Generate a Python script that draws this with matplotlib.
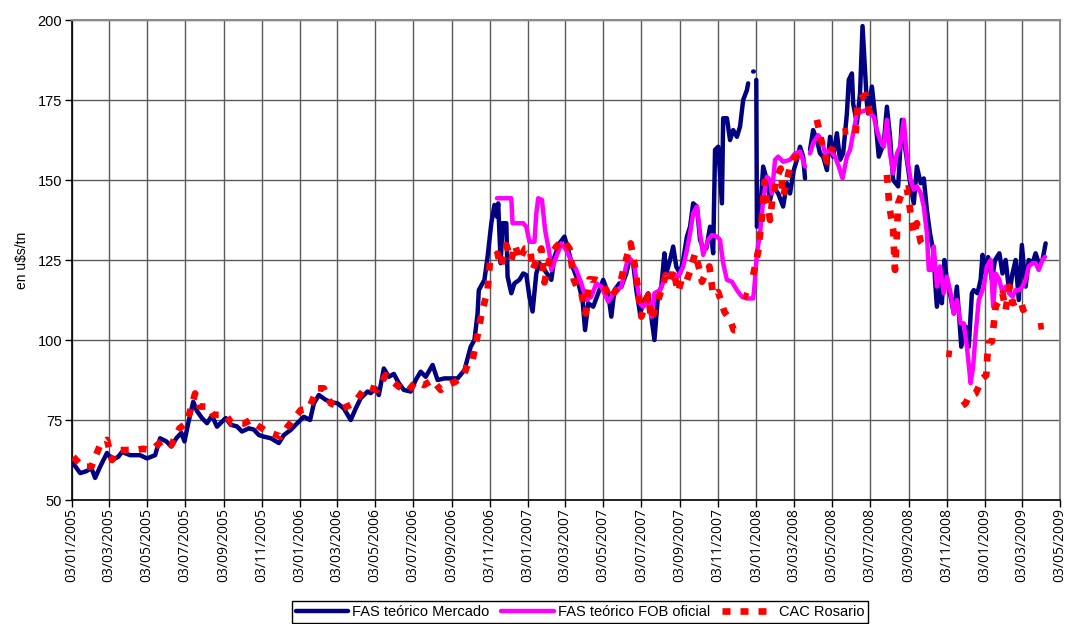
import numpy as np
import pandas as pd
import matplotlib
matplotlib.use("Agg")
import matplotlib.pyplot as plt
import matplotlib.dates as mdates
from matplotlib import font_manager

# --- data (u$s/tn); None marks a gap in the series ---
mercado_dates = [
    "2005-01-03", "2005-01-16", "2005-01-26", "2005-02-03", "2005-02-09", "2005-02-17", "2005-02-28",
    "2005-03-08", "2005-03-18", "2005-03-24", "2005-04-06", "2005-04-22", "2005-05-03", "2005-05-16",
    "2005-05-24", "2005-06-03", "2005-06-11", "2005-06-19", "2005-06-27", "2005-07-02", "2005-07-08",
    "2005-07-16", "2005-07-22", "2005-07-30", "2005-08-07", "2005-08-15", "2005-08-23", "2005-08-31",
    "2005-09-06", "2005-09-14", "2005-09-24", "2005-10-02", "2005-10-13", "2005-10-21", "2005-10-29",
    "2005-11-06", "2005-11-17", "2005-11-30", "2005-12-08", "2005-12-19", "2006-01-01", "2006-01-09",
    "2006-01-19", "2006-01-25", "2006-02-02", "2006-02-13", "2006-02-21", "2006-03-04", "2006-03-14",
    "2006-03-25", "2006-04-02", "2006-04-10", "2006-04-21", "2006-04-26", "2006-05-04", "2006-05-09",
    "2006-05-17", "2006-05-25", "2006-06-02", "2006-06-10", "2006-06-18", "2006-06-29", "2006-07-07",
    "2006-07-15", "2006-07-23", "2006-08-03", "2006-08-11", "2006-08-22", "2006-09-01", "2006-09-12",
    "2006-09-23", "2006-10-03", "2006-10-09", "2006-10-14", "2006-10-16", "2006-10-25", "2006-10-30",
    "2006-11-05", "2006-11-10", "2006-11-14", "2006-11-16", "2006-11-20", "2006-11-23", "2006-11-29",
    "2006-12-01", "2006-12-07", "2006-12-12", "2006-12-20", "2006-12-26", "2006-12-31", "2007-01-05",
    "2007-01-10", "2007-01-16", "2007-01-21", "2007-01-29", "2007-02-09", "2007-02-14", "2007-02-22",
    "2007-03-02", "2007-03-07", "2007-03-15", "2007-03-23", "2007-03-31", "2007-04-04", "2007-04-09",
    "2007-04-17", "2007-04-25", "2007-05-03", "2007-05-11", "2007-05-16", "2007-05-21", "2007-05-29",
    "2007-06-01", "2007-06-09", "2007-06-14", "2007-06-20", "2007-06-25", "2007-07-01", "2007-07-08",
    "2007-07-14", "2007-07-19", "2007-07-24", "2007-07-30", "2007-08-04", "2007-08-09", "2007-08-12",
    "2007-08-18", "2007-08-23", "2007-08-28", "2007-09-03", "2007-09-08", "2007-09-14", "2007-09-19",
    "2007-09-24", "2007-09-30", "2007-10-05", "2007-10-10", "2007-10-15", "2007-10-21", "2007-10-26",
    "2007-10-29", "2007-11-03", "2007-11-09", "2007-11-11", "2007-11-17", "2007-11-22", "2007-11-27",
    "2007-12-03", "2007-12-08", "2007-12-13", "2007-12-19", "2007-12-21", "2007-12-25", "2007-12-29",
    "2007-12-30", "2008-01-01", "2008-01-03", "2008-01-04", "2008-01-09", "2008-01-14", "2008-01-20",
    "2008-01-25", "2008-01-30", "2008-02-07", "2008-02-15", "2008-02-21", "2008-02-26", "2008-03-03",
    "2008-03-08", "2008-03-13", "2008-03-18", "2008-03-21", "2008-03-25", "2008-03-29", "2008-04-03",
    "2008-04-09", "2008-04-14", "2008-04-19", "2008-04-25", "2008-04-30", "2008-05-05", "2008-05-11",
    "2008-05-16", "2008-05-21", "2008-05-27", "2008-05-30", "2008-06-04", "2008-06-06", "2008-06-12",
    "2008-06-17", "2008-06-21", "2008-06-25", "2008-06-28", "2008-06-30", "2008-07-06", "2008-07-11",
    "2008-07-17", "2008-07-25", "2008-07-30", "2008-08-04", "2008-08-09", "2008-08-17", "2008-08-23",
    "2008-08-28", "2008-09-03", "2008-09-06", "2008-09-11", "2008-09-16", "2008-09-22", "2008-09-27",
    "2008-10-02", "2008-10-07", "2008-10-13", "2008-10-15", "2008-10-18", "2008-10-23", "2008-10-26",
    "2008-10-30", "2008-11-03", "2008-11-09", "2008-11-14", "2008-11-19", "2008-11-23", "2008-11-26",
    "2008-12-03", "2008-12-08", "2008-12-13", "2008-12-16", "2008-12-22", "2008-12-27", "2008-12-30",
    "2009-01-03", "2009-01-08", "2009-01-14", "2009-01-19", "2009-01-26", "2009-01-31", "2009-02-05",
    "2009-02-11", "2009-02-16", "2009-02-21", "2009-02-26", "2009-03-03", "2009-03-09", "2009-03-14",
    "2009-03-20", "2009-03-25", "2009-03-30", "2009-04-05", "2009-04-10",
]
mercado = [
    62, 58.4, 59, 60, 56.9, 60.4, 64.7,
    62.5, 63.5, 65, 64, 64, 63, 64,
    69.3, 68.3, 66.7, 69.3, 71, 68.3, 74,
    80.7, 77.8, 75.6, 74, 76.4, 72.9, 74.5,
    75.6, 73.5, 73, 71.4, 72.4, 72, 70.3,
    69.8, 69.3, 67.8, 70.3, 71.9, 74.5, 76,
    75, 80.2, 82.8, 81.3, 80.6, 80.2, 78.6,
    75, 78.6, 81.8, 83.9, 83.4, 84.9, 82.8,
    91.1, 88.5, 89.4, 86.5, 84.4, 83.9, 87.5,
    90.1, 88.5, 92.2, 87.5, 88, 88, 88,
    90.6, 97.9, 100, 108.3, 115.6, 118.8, 126,
    136.5, 142.2, 138.5, 142.7, 124, 136.5, 136.5,
    119.8, 114.6, 117.7, 118.8, 120.8, 120.3, 113.5,
    108.9, 120.8, 124, 121.9, 118.8, 126, 130.2,
    132.3, 129, 122.9, 118.8, 112.5, 103.1, 111.5,
    110.4, 114.6, 118.8, 114.6, 107.3, 115.6, 117.7,
    116.6, 120.8, 125, 124, 115.6, 108.3, 112.5,
    114.6, 107.3, 100, 114.6, 116.6, 127.1, 120.8,
    125, 129.2, 122.9, 120.8, 125, 132.3, 135.4,
    142.7, 141.7, 131.3, 128.6, 128.6, 135.4, 127.1,
    159.4, 160.4, 142.7, 169.3, 169.3, 162.5, 165.6,
    163.5, 166.7, 175, 178.1, 180.2, None, 183.9,
    183.9, None, 181.3, 135.4, 139.6, 154.2, 150,
    143.8, 147.9, 145.8, 141.7, 149, 145.8, 153.1,
    156.3, 160.4, 157.3, 150.5, None, 159.4, 165.6,
    162.5, 158.3, 157.3, 153.1, 163.5, 157.3, 164.6,
    156.3, 158.3, 170.8, 181.3, 183.3, 173.9, 167.7,
    177.1, 198.1, 184.4, 174, 170.8, 179.2, 170,
    157.3, 161.5, 172.9, 163.5, 150, 148, 168.8,
    160.4, 152, 148, 142.7, 154.2, 149, 150.5,
    140.6, 133.3, 127, 118.8, 110.4, 118.8, 111.5,
    125, 118.8, 113.5, 108.3, 116.7, 106.3, 97.9,
    104.2, 97.9, 114.6, 115.6, 114.6, 118.8, 126.6,
    120.8, 125.9, 118.8, 125, 127.1, 120.8, 125,
    114.6, 120.8, 125, 112.5, 129.7, 116.7, 125,
    124, 127.1, 124, 125, 130.2,
]

fob_dates = [
    "2006-11-14", "2006-12-07", "2006-12-09", "2006-12-26", "2006-12-31", "2007-01-05", "2007-01-13",
    "2007-01-16", "2007-01-19", "2007-01-25", "2007-01-30", "2007-02-06", "2007-02-09", "2007-02-17",
    "2007-02-25", "2007-03-05", "2007-03-15", "2007-03-21", "2007-03-29", "2007-04-06", "2007-04-14",
    "2007-04-22", "2007-04-30", "2007-05-11", "2007-05-21", "2007-06-01", "2007-06-12", "2007-06-17",
    "2007-06-22", "2007-07-01", "2007-07-06", "2007-07-14", "2007-07-19", "2007-07-24", "2007-08-02",
    "2007-08-09", "2007-08-15", "2007-08-23", "2007-08-31", "2007-09-08", "2007-09-14", "2007-09-19",
    "2007-09-24", "2007-09-30", "2007-10-05", "2007-10-10", "2007-10-18", "2007-10-24", "2007-11-01",
    "2007-11-06", "2007-11-11", "2007-11-17", "2007-11-25", "2007-12-03", "2007-12-11", "2007-12-19",
    "2007-12-29", "2007-12-31", "2008-01-04", "2008-01-09", "2008-01-12", "2008-01-14", "2008-01-20",
    "2008-01-25", "2008-01-28", "2008-02-02", "2008-02-07", "2008-02-15", "2008-02-26", "2008-03-05",
    "2008-03-13", "2008-03-21", "2008-03-25", "2008-03-29", "2008-04-03", "2008-04-11", "2008-04-17",
    "2008-04-22", "2008-04-30", "2008-05-08", "2008-05-14", "2008-05-20", "2008-05-27", "2008-06-01",
    "2008-06-06", "2008-06-12", "2008-06-20", "2008-06-28", "2008-07-03", "2008-07-09", "2008-07-14",
    "2008-07-19", "2008-07-25", "2008-07-30", "2008-08-04", "2008-08-09", "2008-08-15", "2008-08-20",
    "2008-08-26", "2008-08-31", "2008-09-06", "2008-09-11", "2008-09-16", "2008-09-22", "2008-09-27",
    "2008-10-02", "2008-10-05", "2008-10-10", "2008-10-13", "2008-10-18", "2008-10-23", "2008-10-29",
    "2008-11-03", "2008-11-09", "2008-11-14", "2008-11-19", "2008-11-25", "2008-11-30", "2008-12-05",
    "2008-12-11", "2008-12-15", "2008-12-19", "2008-12-24", "2009-01-01", "2009-01-06", "2009-01-12",
    "2009-01-16", "2009-01-20", "2009-01-26", "2009-01-31", "2009-02-05", "2009-02-11", "2009-02-16",
    "2009-02-21", "2009-02-27", "2009-03-04", "2009-03-09", "2009-03-14", "2009-03-20", "2009-03-25",
    "2009-03-30", "2009-04-05", "2009-04-09",
]
fob_oficial = [
    144.3, 144.3, 136.5, 136.5, 135.4, 130.7, 130.7,
    139.6, 144.3, 143.8, 134.4, 127.1, 121.9, 126,
    130.2, 128, 124, 121.9, 117.7, 112.5, 113.5,
    117.7, 116.7, 112, 115, 116.6, 126, 125,
    122.9, 111.5, 110.4, 112.5, 107.3, 114.6, 115.6,
    118.8, 119.8, 120.8, 119.8, 122.9, 128.1, 133.3,
    139.6, 141.7, 133.3, 126.6, 131.3, 132.8, 132.3,
    131.3, 124, 118.8, 118.2, 115.6, 113.5, 113,
    113, 116.7, 127.1, 133.3, 139.6, 143.8, 151,
    150, 145.8, 156.3, 157.3, 155.7, 156.3, 158.3,
    158.9, 154.2, None, 158.3, 161.5, 164, 162.5,
    158.3, 159.4, 157.3, 154.2, 150.5, 157.3, 159.4,
    164.6, 170.8, 171.4, 171.9, 170.8, 169.8, 165.6,
    162.5, 160.4, 168.8, 158.3, 152.1, 158.3, 160.4,
    168.8, 157.3, 150, 147, 148, 146, 141.7,
    133.3, 121.9, 121.9, 129.2, 116.7, 123, 114.6,
    119.8, 114.6, 108.3, 112.5, 105.2, 105.2, 97.9,
    86.5, 91.7, 102, 112.5, 116.7, 123, 125,
    110.4, 120.8, 118.8, 114.6, 116.7, 114.6, 113.5,
    115.6, 115.6, 116.7, 118.8, 123, 124, 124,
    121.9, 125, 126,
]

cac_dates = [
    "2005-01-05", "2005-01-20", "2005-02-03", "2005-02-17", "2005-02-28", "2005-03-08", "2005-03-16",
    "2005-04-01", "2005-04-14", "2005-04-27", "2005-05-10", "2005-05-29", "2005-06-11", "2005-06-24",
    "2005-07-05", "2005-07-10", "2005-07-19", "2005-07-26", "2005-08-09", "2005-08-17", "2005-09-06",
    "2005-09-16", "2005-10-05", "2005-10-16", "2005-10-21", "2005-11-11", "2005-12-03", "2005-12-14",
    "2006-01-04", "2006-01-17", "2006-01-31", "2006-02-10", "2006-02-21", "2006-03-12", "2006-03-30",
    "2006-04-13", "2006-04-21", "2006-05-06", "2006-05-20", "2006-05-31", "2006-06-10", "2006-06-24",
    "2006-07-07", "2006-07-20", "2006-08-03", "2006-08-16", "2006-08-27", "2006-09-09", "2006-09-23",
    "2006-10-01", "2006-10-06", "2006-10-13", "2006-10-20", "2006-10-30", "2006-11-03", "2006-11-15",
    "2006-11-20", "2006-11-29", "2006-12-07", "2006-12-13", "2006-12-20", "2006-12-29", "2007-01-06",
    "2007-01-10", "2007-01-24", "2007-01-29", "2007-02-08", "2007-02-17", "2007-02-28", "2007-03-10",
    "2007-03-17", "2007-03-24", "2007-03-29", "2007-04-05", "2007-04-11", "2007-04-22", "2007-04-30",
    "2007-05-08", "2007-05-13", "2007-05-24", "2007-05-29", "2007-06-06", "2007-06-16", "2007-06-22",
    "2007-06-29", "2007-07-03", "2007-07-14", "2007-07-19", "2007-07-26", "2007-08-03", "2007-08-11",
    "2007-08-18", "2007-08-23", "2007-08-31", "2007-09-07", "2007-09-14", "2007-09-19", "2007-09-27",
    "2007-10-05", "2007-10-08", "2007-10-20", "2007-10-26", "2007-11-03", "2007-11-13", "2007-11-22",
    "2007-11-28", "2007-12-06", "2007-12-10", "2007-12-13", "2007-12-21", "2007-12-24", "2007-12-29",
    "2008-01-06",
    "2008-01-12", "2008-01-16", "2008-01-20", "2008-01-25", "2008-01-28", "2008-02-05", "2008-02-11",
    "2008-02-15", "2008-02-26", "2008-03-05", "2008-03-13", "2008-03-30", "2008-04-09", "2008-04-17",
    "2008-04-25", "2008-04-29", "2008-05-05", "2008-05-15", "2008-05-20", "2008-05-29", "2008-06-03",
    "2008-06-10",
    "2008-06-14", "2008-06-26", "2008-07-03", "2008-07-10", "2008-07-14", "2008-07-22", "2008-07-30",
    "2008-08-03", "2008-08-09", "2008-08-11", "2008-08-12", "2008-08-15", "2008-08-17", "2008-08-26",
    "2008-08-31", "2008-09-06", "2008-09-11", "2008-09-16", "2008-09-22", "2008-09-24", "2008-10-15",
    "2008-11-02", "2008-11-11", "2008-11-18", "2008-11-28", "2008-12-03", "2008-12-08", "2008-12-19",
    "2008-12-30", "2009-01-05",
    "2009-01-08", "2009-01-14", "2009-01-20", "2009-01-31", "2009-02-05", "2009-02-11", "2009-02-16",
    "2009-03-01", "2009-03-05", "2009-03-17", "2009-03-25", "2009-03-29", "2009-04-07",
]
cac_rosario = [
    63.5, 60.4, 60.4, 67.2, 68.8, 62.5, 65.6,
    65.6, 65.6, 66, 65.6, 68.8, 67.2, 72.4,
    74, 77.1, 83.3, 79.2, 79.2, 76.6, 76.6,
    73.9, 73.9, 75, 74, 71.4, 69.8, 72.9,
    78.1, 78.6, 84.9, 84.9, 80.2, 78.6, 80.2,
    83.9, 85.4, 84.4, 89, 87, 85.4, 83.9,
    87, 85.9, 87.5, 84.4, 85.9, 87, 89.6,
    93.8, 93.8, 100.5, 107.8, 115.6, 125, 127,
    123, 129.7, 125, 129.7, 125, 128.6, 128.6,
    121.9, 128.6, 118, 126.6, 129.2, 131.3, 128.6,
    118.8, 115.6, 114.6, 108.3, 119, 118.8, 118,
    115.6, 113, 115.6, 116.7, 123.4, 130.2, 124,
    114, 107.3, 114, 106.3, 109.9, 115, 120.3,
    118.2, 121.9, 115, 119.8, 118.8, 121.4, 127.1,
    121.4, 118.2, 123, 114, 115, 108.8, 106.3,
    103.1, 103.1, None, 114, 113.5, None, 120.3,
    127.6,
    138.5, 149.5, 143.8, 137.5, 142.7, 151, 153.6,
    144.8, 154.2, 157.3, 157.3, None, 168.8, 161.5,
    155.7, 157.8, 160.4, None, 165.1, 165.3, None,
    164.6,
    175, 176.6, 170.3, 169.8, 168.8, None, 151.6,
    141.7, 134.4, 125, 121.9, 133, 142.7, 147.4,
    147.4, 139.6, 133, 136.5, 130.7, 130.2, None,
    95.8, 95.6, None, 79.5, 80.2, 82.3, 83.3,
    88, 89,
    99, 99.5, 110.4, 114.6, 109.4, 116.7, 111.5,
    112.5, 109.4, 111.5, None, 104.2, 104.4,
]


def _series(dates, values):
    return pd.to_datetime(dates), np.array(values, dtype=float)


def _font(*names):
    installed = {f.name for f in font_manager.fontManager.ttflist}
    for n in names:
        if n in installed:
            return n
    return "DejaVu Sans"


narrow = _font("Liberation Sans Narrow", "Arial Narrow", "Liberation Sans")
tickfont = _font("Open Sans", "DejaVu Sans")

fig = plt.figure(figsize=(10.68, 6.24), dpi=100)
ax = fig.add_axes([72 / 1068, 1 - 500 / 624, 988 / 1068, 480 / 624])

x, y = _series(mercado_dates, mercado)
ax.plot(x, y, color="#000080", lw=3.2, label="FAS teórico Mercado", zorder=3,
        solid_capstyle="round", solid_joinstyle="round")
x, y = _series(fob_dates, fob_oficial)
ax.plot(x, y, color="#FF00FF", lw=3.2, label="FAS teórico FOB oficial", zorder=4,
        solid_capstyle="round", solid_joinstyle="round")
x, y = _series(cac_dates, cac_rosario)
ax.plot(x, y, color="#FF0000", lw=4.8, ls=(0, (1.2, 1.5)), label="CAC Rosario", zorder=5,
        dash_capstyle="butt")

ax.set_xlim(pd.Timestamp("2005-01-03"), pd.Timestamp("2009-05-03"))
ax.set_ylim(50, 200)
ax.set_yticks(range(50, 201, 25))
ax.xaxis.set_major_locator(mdates.MonthLocator(bymonth=[1, 3, 5, 7, 9, 11], bymonthday=3))
ax.xaxis.set_major_formatter(mdates.DateFormatter("%d/%m/%Y"))

ax.grid(True, color="#5a5a5a", lw=1.0)
ax.set_axisbelow(True)
for side in ("top", "right"):
    ax.spines[side].set_color("#8c8c8c")
    ax.spines[side].set_linewidth(1.5)
for side in ("left", "bottom"):
    ax.spines[side].set_color("black")
    ax.spines[side].set_linewidth(1.2)

ax.tick_params(axis="y", length=5, width=1, labelsize=10.5, pad=2)
ax.tick_params(axis="x", length=5, width=1, labelsize=10, pad=1, rotation=90)
for lab in ax.get_yticklabels():
    lab.set_family(narrow)
for lab in ax.get_xticklabels():
    lab.set_family(tickfont)

ax.set_ylabel("en u$s/tn", fontsize=10, family=narrow, labelpad=6)

leg = fig.legend(loc="center", bbox_to_anchor=(580 / 1068, 1 - 612 / 624), ncol=3,
                 frameon=True, fancybox=False, edgecolor="black", framealpha=1,
                 prop={"family": narrow, "size": 10.5}, handlelength=3.6,
                 handletextpad=0.3, columnspacing=0.8, borderpad=0.25, borderaxespad=0)
leg.get_frame().set_linewidth(1.0)

fig.savefig("out.png", dpi=100)
